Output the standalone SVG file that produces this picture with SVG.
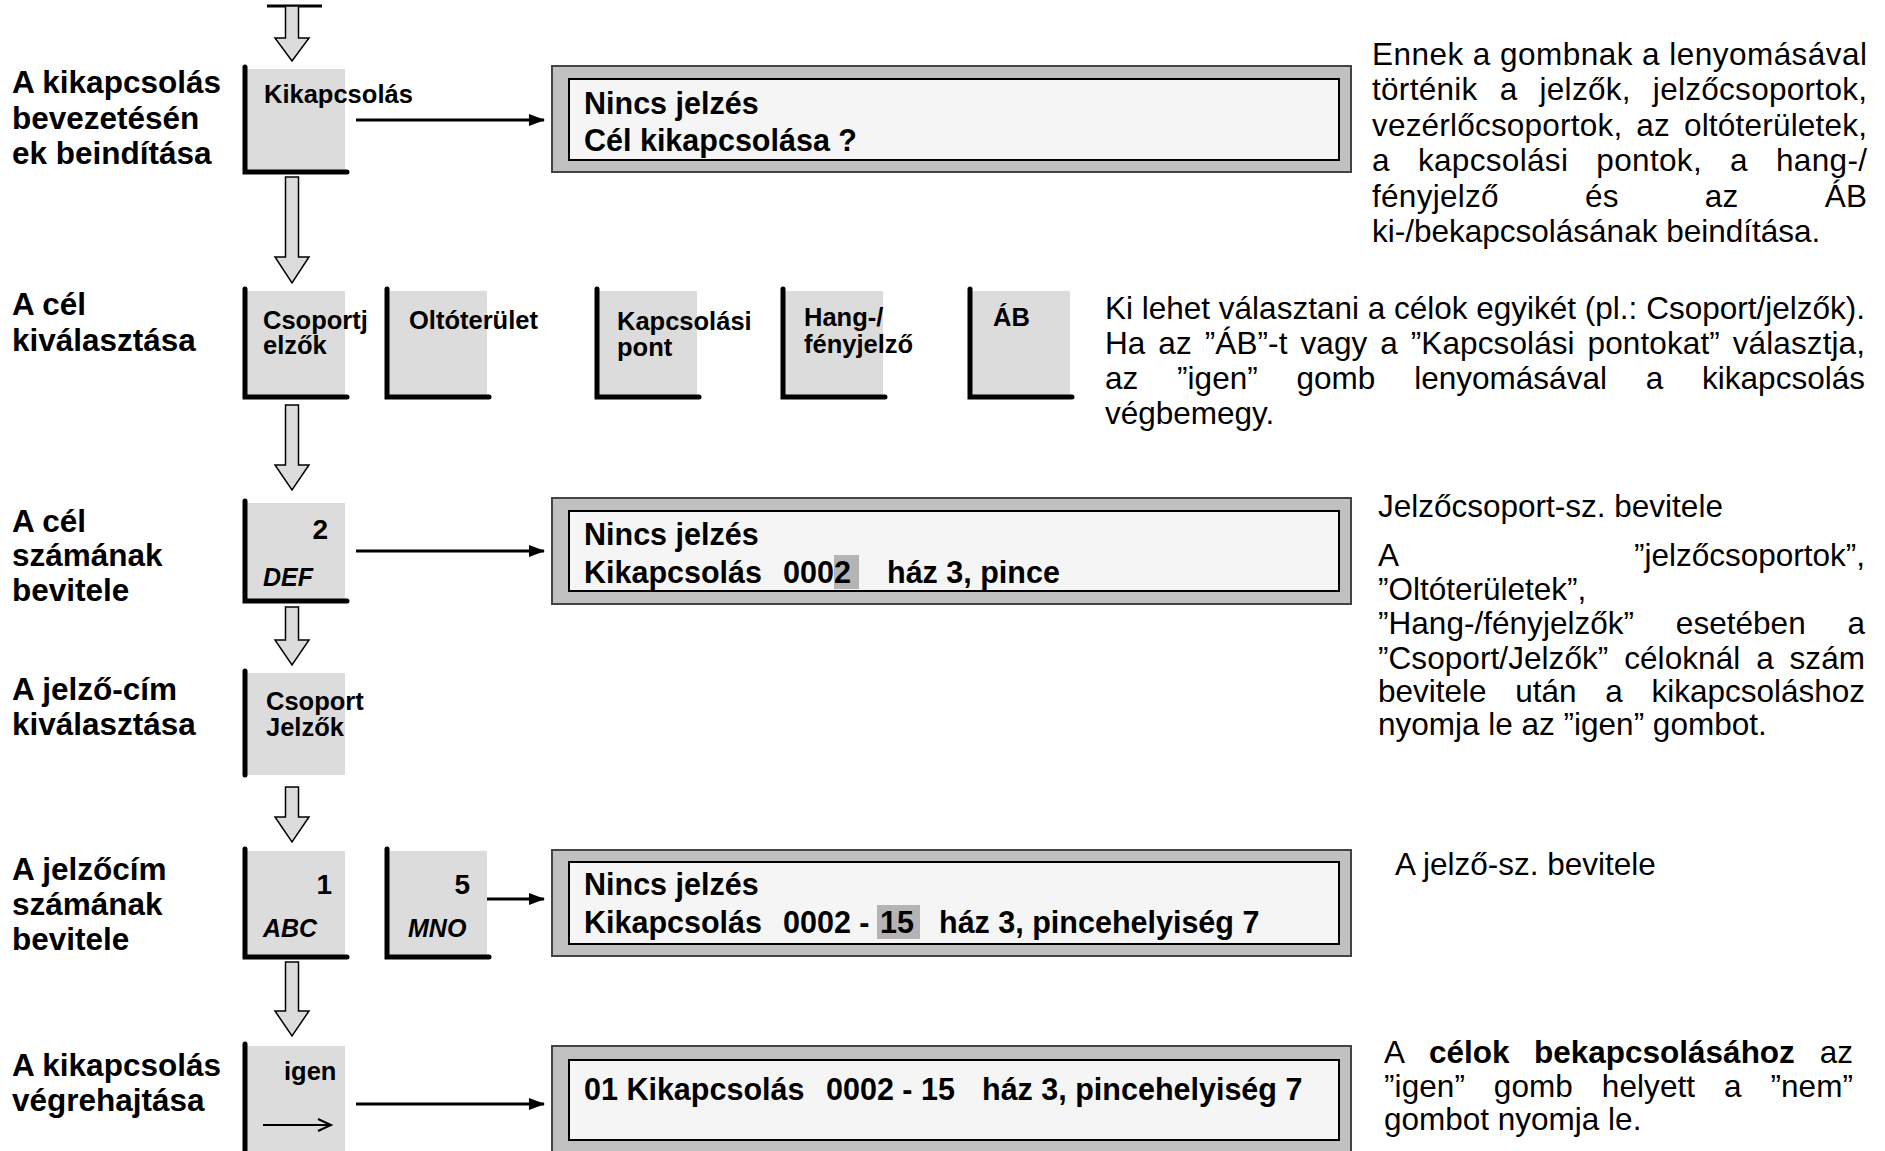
<svg xmlns="http://www.w3.org/2000/svg" width="1885" height="1151" viewBox="0 0 1885 1151">
<defs>
<style>
.lbl{font-family:"Liberation Sans",Arial,sans-serif;font-weight:bold;font-size:31.5px;fill:#000}
.key{fill:#dcdcdc}
.kb{stroke:#000;stroke-width:5;stroke-linecap:round;fill:none}
.kt{font-family:"Liberation Sans",Arial,sans-serif;font-weight:bold;font-size:25.5px;fill:#000}
.kd{font-family:"Liberation Sans",Arial,sans-serif;font-weight:bold;font-size:28px;fill:#000}
.ki{font-family:"Liberation Sans",Arial,sans-serif;font-weight:bold;font-style:italic;font-size:25px;fill:#000}
.lcdo{fill:#c0c0c0;stroke:#444;stroke-width:2}
.lcdi{fill:#f5f5f5;stroke:#000;stroke-width:2}
.hl{fill:#b4b4b4}
.lt{font-family:"Liberation Sans",Arial,sans-serif;font-weight:bold;font-size:30.5px;fill:#000}
.rt{font-family:"Liberation Sans",Arial,sans-serif;font-size:31.5px;fill:#000}
.b{font-weight:bold}
.blk{fill:#dcdcdc;stroke:#000;stroke-width:1.5;stroke-linejoin:miter}
.con{stroke:#000;stroke-width:3;fill:none;marker-end:url(#ah)}
</style>
<marker id="ah" markerUnits="userSpaceOnUse" markerWidth="16" markerHeight="12" refX="15" refY="6" orient="auto">
<path d="M0,0 L16,6 L0,12 Z" fill="#000"/>
</marker>
</defs>
<rect width="1885" height="1151" fill="#fff"/>

<!-- row labels -->
<g id="labels">
<text class="lbl" x="12" y="93">A kikapcsolás</text>
<text class="lbl" x="12" y="129">bevezetésén</text>
<text class="lbl" x="12" y="164">ek beindítása</text>
<text class="lbl" x="12" y="315">A cél</text>
<text class="lbl" x="12" y="351">kiválasztása</text>
<text class="lbl" x="12" y="532">A cél</text>
<text class="lbl" x="12" y="566">számának</text>
<text class="lbl" x="12" y="601">bevitele</text>
<text class="lbl" x="12" y="700">A jelző-cím</text>
<text class="lbl" x="12" y="735">kiválasztása</text>
<text class="lbl" x="12" y="880">A jelzőcím</text>
<text class="lbl" x="12" y="915">számának</text>
<text class="lbl" x="12" y="950">bevitele</text>
<text class="lbl" x="12" y="1076">A kikapcsolás</text>
<text class="lbl" x="12" y="1111">végrehajtása</text>
</g>

<!-- flow arrows and connectors -->
<g id="connectors">
<line x1="267" y1="6" x2="322" y2="6" stroke="#000" stroke-width="3"/>
<path class="blk" d="M285.5,6 V38 H275 L292,61 L309,38 H298.5 V6 Z"/>
<path class="blk" d="M285.5,177 V257 H275 L292,283 L309,257 H298.5 V177 Z"/>
<path class="blk" d="M285.5,405 V465 H275 L292,490 L309,465 H298.5 V405 Z"/>
<path class="blk" d="M285.5,607 V640 H275 L292,665 L309,640 H298.5 V607 Z"/>
<path class="blk" d="M285.5,787 V817 H275 L292,842 L309,817 H298.5 V787 Z"/>
<path class="blk" d="M285.5,962 V1011 H275 L292,1036 L309,1011 H298.5 V962 Z"/>
<line class="con" x1="356" y1="120" x2="544" y2="120"/>
<line class="con" x1="356" y1="551" x2="544" y2="551"/>
<line class="con" x1="471" y1="899" x2="544" y2="899"/>
<line class="con" x1="356" y1="1104" x2="544" y2="1104"/>
</g>

<!-- keys -->
<g id="key-kikapcsolas">
<rect class="key" x="243" y="69" width="102" height="103"/>
<path class="kb" d="M245,67 V172 H347"/>
<text class="kt" x="264" y="103">Kikapcsolás</text>
</g>
<g id="key-csoportjelzok">
<rect class="key" x="243" y="291" width="102" height="106"/>
<path class="kb" d="M245,289 V397 H347"/>
<text class="kt" x="263" y="329">Csoportj</text>
<text class="kt" x="263" y="354">elzők</text>
</g>
<g id="key-oltoterulet">
<rect class="key" x="385" y="291" width="102" height="106"/>
<path class="kb" d="M387,289 V397 H489"/>
<text class="kt" x="409" y="329">Oltóterület</text>
</g>
<g id="key-kapcsolasi">
<rect class="key" x="595" y="291" width="102" height="106"/>
<path class="kb" d="M597,289 V397 H699"/>
<text class="kt" x="617" y="330">Kapcsolási</text>
<text class="kt" x="617" y="356">pont</text>
</g>
<g id="key-hang">
<rect class="key" x="781" y="291" width="102" height="106"/>
<path class="kb" d="M783,289 V397 H885"/>
<text class="kt" x="804" y="326">Hang-/</text>
<text class="kt" x="804" y="353">fényjelző</text>
</g>
<g id="key-ab">
<rect class="key" x="968" y="291" width="102" height="106"/>
<path class="kb" d="M970,289 V397 H1072"/>
<text class="kt" x="993" y="326">ÁB</text>
</g>
<g id="key-2">
<rect class="key" x="243" y="503" width="102" height="98"/>
<path class="kb" d="M245,501 V601 H347"/>
<text class="kd" x="328" y="539" text-anchor="end">2</text>
<text class="ki" x="263" y="586">DEF</text>
</g>
<g id="key-csoport">
<rect class="key" x="243" y="673" width="102" height="102"/>
<path class="kb" d="M245,671 V775"/>
<text class="kt" x="266" y="710">Csoport</text>
<text class="kt" x="266" y="736">Jelzők</text>
</g>
<g id="key-1">
<rect class="key" x="243" y="851" width="102" height="106"/>
<path class="kb" d="M245,849 V957 H347"/>
<text class="kd" x="332" y="894" text-anchor="end">1</text>
<text class="ki" x="263" y="937">ABC</text>
</g>
<g id="key-5">
<rect class="key" x="385" y="851" width="102" height="106"/>
<path class="kb" d="M387,849 V957 H489"/>
<text class="kd" x="470" y="894" text-anchor="end">5</text>
<text class="ki" x="408" y="937">MNO</text>
</g>
<g id="key-igen">
<rect class="key" x="243" y="1046" width="102" height="110"/>
<path class="kb" d="M245,1044 V1156"/>
<text class="kt" x="284" y="1080">igen</text>
<path d="M263,1125 H330 M318,1119 L331,1125 L318,1131" stroke="#000" stroke-width="2" fill="none"/>
</g>

<!-- displays -->
<g id="lcd-1">
<rect class="lcdo" x="552" y="66" width="799" height="106"/>
<rect class="lcdi" x="569" y="79" width="770" height="81"/>
<text class="lt" x="584" y="114">Nincs jelzés</text>
<text class="lt" x="584" y="151">Cél kikapcsolása ?</text>
</g>
<g id="lcd-2">
<rect class="lcdo" x="552" y="498" width="799" height="106"/>
<rect class="lcdi" x="569" y="511" width="770" height="80"/>
<rect class="hl" x="834" y="555" width="25" height="34"/>
<text class="lt" x="584" y="545">Nincs jelzés</text>
<text class="lt" y="583"><tspan x="584">Kikapcsolás</tspan><tspan x="783">0002</tspan><tspan x="887">ház 3, pince</tspan></text>
</g>
<g id="lcd-3">
<rect class="lcdo" x="552" y="850" width="799" height="106"/>
<rect class="lcdi" x="569" y="862" width="770" height="82"/>
<rect class="hl" x="877" y="905" width="43" height="34"/>
<text class="lt" x="584" y="895">Nincs jelzés</text>
<text class="lt" y="933"><tspan x="584">Kikapcsolás</tspan><tspan x="783">0002 -</tspan><tspan x="880">15</tspan><tspan x="939">ház 3, pincehelyiség 7</tspan></text>
</g>
<g id="lcd-4">
<rect class="lcdo" x="552" y="1046" width="799" height="112"/>
<rect class="lcdi" x="569" y="1060" width="770" height="80"/>
<text class="lt" y="1100"><tspan x="584">01 Kikapcsolás</tspan><tspan x="826">0002 - 15</tspan><tspan x="982">ház 3, pincehelyiség 7</tspan></text>
</g>

<!-- descriptions -->
<g id="desc-1">
<text class="rt" x="1372" y="65" textLength="495" lengthAdjust="spacing">Ennek a gombnak a lenyomásával</text>
<text class="rt" x="1372" y="100" textLength="495" lengthAdjust="spacing" word-spacing="13">történik a jelzők, jelzőcsoportok,</text>
<text class="rt" x="1372" y="136" textLength="495" lengthAdjust="spacing" word-spacing="5">vezérlőcsoportok, az oltóterületek,</text>
<text class="rt" x="1372" y="171" textLength="495" lengthAdjust="spacing" word-spacing="19">a kapcsolási pontok, a hang-/</text>
<text class="rt" x="1372" y="207" textLength="495" lengthAdjust="spacing" word-spacing="77">fényjelző és az ÁB</text>
<text class="rt" x="1372" y="242">ki-/bekapcsolásának beindítása.</text>
</g>
<g id="desc-2">
<text class="rt" x="1105" y="319" textLength="760" lengthAdjust="spacing">Ki lehet választani a célok egyikét (pl.: Csoport/jelzők).</text>
<text class="rt" x="1105" y="354" textLength="760" lengthAdjust="spacing" word-spacing="4">Ha az ”ÁB”-t vagy a ”Kapcsolási pontokat” választja,</text>
<text class="rt" x="1105" y="389" textLength="760" lengthAdjust="spacing" word-spacing="30">az ”igen” gomb lenyomásával a kikapcsolás</text>
<text class="rt" x="1105" y="424">végbemegy.</text>
</g>
<g id="desc-3">
<text class="rt" x="1378" y="517">Jelzőcsoport-sz. bevitele</text>
<text class="rt" x="1378" y="566">A</text>
<text class="rt" x="1865" y="566" text-anchor="end">”jelzőcsoportok”,</text>
<text class="rt" x="1378" y="600">”Oltóterületek”,</text>
<text class="rt" x="1378" y="634" textLength="487" lengthAdjust="spacing" word-spacing="33">”Hang-/fényjelzők” esetében a</text>
<text class="rt" x="1378" y="669" textLength="487" lengthAdjust="spacing" word-spacing="7">”Csoport/Jelzők” céloknál a szám</text>
<text class="rt" x="1378" y="702" textLength="487" lengthAdjust="spacing" word-spacing="20">bevitele után a kikapcsoláshoz</text>
<text class="rt" x="1378" y="735">nyomja le az ”igen” gombot.</text>
</g>
<g id="desc-5">
<text class="rt" x="1395" y="875">A jelző-sz. bevitele</text>
</g>
<g id="desc-6">
<text class="rt" x="1384" y="1063">A</text>
<text class="rt b" x="1429" y="1063">célok</text>
<text class="rt b" x="1534" y="1063">bekapcsolásához</text>
<text class="rt" x="1853" y="1063" text-anchor="end">az</text>
<text class="rt" x="1384" y="1097" textLength="469" lengthAdjust="spacing" word-spacing="20">”igen” gomb helyett a ”nem”</text>
<text class="rt" x="1384" y="1130">gombot nyomja le.</text>
</g>
</svg>
